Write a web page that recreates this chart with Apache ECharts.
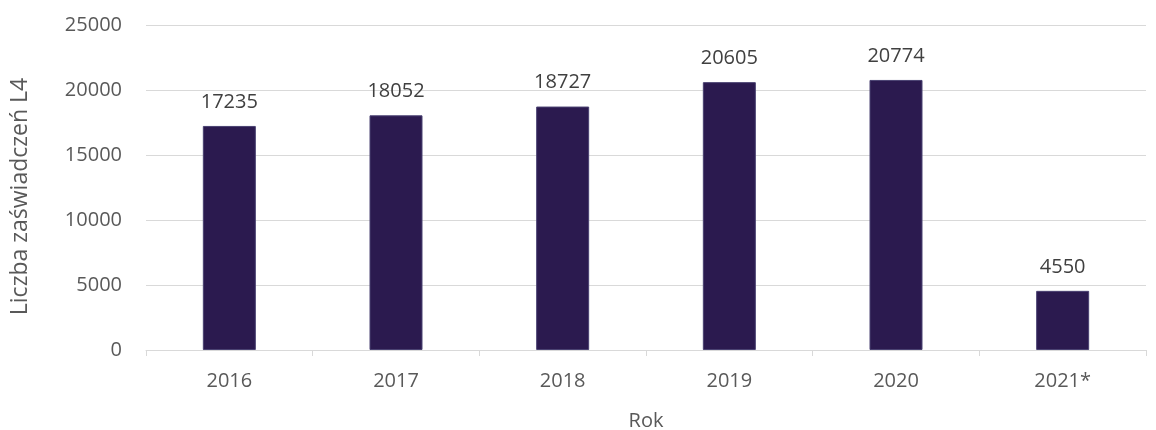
<!DOCTYPE html>
<html><head><meta charset="utf-8">
<script src="https://cdn.jsdelivr.net/npm/echarts@6/dist/echarts.min.js"></script>
<style>html,body{margin:0;padding:0;background:#fff}#c{width:1156px;height:430px}</style>
</head><body><div id="c"></div>
<script>
const categories = ['2016','2017','2018','2019','2020','2021*'];
const values = [17235, 18052, 18727, 20605, 20774, 4550];
const yTicks = [0, 5000, 10000, 15000, 20000, 25000];
const font = 'Open Sans';
const chart = echarts.init(document.getElementById('c'));
chart.setOption({
  animation: false,
  grid: {left: 146, right: 10, top: 25, bottom: 80, containLabel: false, outerBoundsMode: 'none'},
  xAxis: {
    type: 'category', data: categories,
    name: 'Rok', nameLocation: 'middle', nameGap: 61,
    nameTextStyle: {fontFamily: font, fontSize: 20, color: '#595959'},
    axisLine: {lineStyle: {color: '#d9d9d9', width: 1}},
    axisTick: {show: true, length: 6, lineStyle: {color: '#d9d9d9'}},
    axisLabel: {fontFamily: font, fontSize: 20, color: '#595959', margin: 21}
  },
  yAxis: {
    type: 'value', min: yTicks[0], max: yTicks[yTicks.length-1], interval: 5000,
    name: 'Liczba zaświadczeń L4', nameLocation: 'middle', nameGap: 114,
    nameTextStyle: {fontFamily: font, fontSize: 23, color: '#595959', padding: [0, 18, 0, 0]},
    axisLine: {show: false}, axisTick: {show: false},
    splitLine: {lineStyle: {color: '#d9d9d9', width: 1}},
    axisLabel: {fontFamily: font, fontSize: 20, color: '#595959', margin: 24,
      formatter: function (v) { return String(v); }}
  },
  series: [{
    type: 'bar', data: values, barWidth: 53,
    itemStyle: {color: '#2b1a4f', borderColor: '#4a4272', borderWidth: 1},
    label: {show: true, position: 'top', distance: 14, fontFamily: font, fontSize: 20, color: '#404040'}
  }]
});
</script></body></html>
